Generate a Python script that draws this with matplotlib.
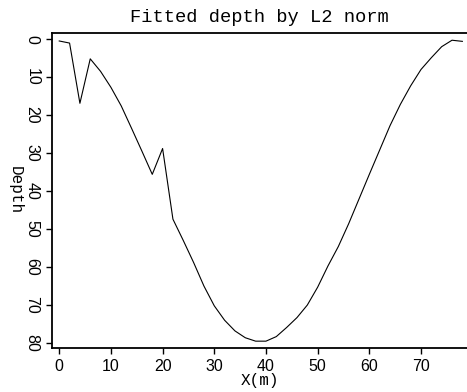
import matplotlib
matplotlib.use("Agg")
import matplotlib.pyplot as plt

# fitted depth profile, sampled every 2 m
x_m = [0, 2, 4, 6, 8, 10, 12, 14, 16, 18, 20, 22, 24, 26, 28, 30, 32, 34, 36, 38,
       40, 42, 44, 46, 48, 50, 52, 54, 56, 58, 60, 62, 64, 66, 68, 70, 72, 74, 76, 78]
depth = [0.5, 1.05, 16.9, 5.2, 8.5, 12.7, 17.6, 23.5, 29.5, 35.6,
         28.8, 47.4, 53.0, 58.8, 65.0, 70.2, 74.0, 76.8, 78.6, 79.5,
         79.5, 78.3, 75.9, 73.3, 70.0, 65.3, 59.7, 54.6, 48.6, 42.1,
         35.6, 29.2, 22.8, 17.2, 12.3, 8.0, 4.9, 2.0, 0.3, 0.6]
xticks = [0, 10, 20, 30, 40, 50, 60, 70]
yticks = [0, 10, 20, 30, 40, 50, 60, 70, 80]

fig = plt.figure(figsize=(4.67, 3.92), dpi=100)
ax = fig.add_axes([52/467, 44/392, 415/467, 315/392])

ax.plot(x_m, depth, color="black", lw=0.8)
ax.set_xlim(-1.4, 78.9)
ax.set_ylim(81.3, -1.6)

ax.spines["right"].set_visible(False)
for s in ("left", "top", "bottom"):
    ax.spines[s].set_linewidth(1.3)

ax.set_xticks(xticks)
ax.set_yticks(yticks)
ax.tick_params(direction="out", length=4, width=1, labelsize=11.5)
ax.tick_params(axis="x", pad=4)
ax.tick_params(axis="y", pad=5)
for lab in ax.get_xticklabels() + ax.get_yticklabels():
    lab.set_family("Liberation Sans")
for lab in ax.get_yticklabels():
    lab.set_rotation(-90)
    lab.set_va("center")

ax.set_title("Fitted depth by L2 norm", family="Liberation Mono", fontsize=13.5, pad=8)
ax.set_xlabel("X(m)", family="Liberation Mono", fontsize=11.5, labelpad=-1)
ax.set_ylabel("Depth", family="Liberation Mono", fontsize=11.5, rotation=-90,
              va="center", labelpad=7)

fig.savefig("out.png", dpi=100)
